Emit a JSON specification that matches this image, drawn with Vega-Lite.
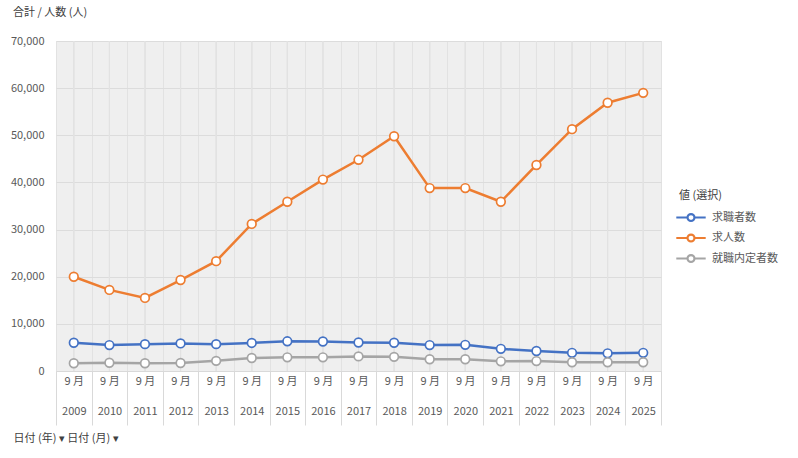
{
  "$schema": "https://vega.github.io/schema/vega-lite/v6.json",
  "width": 605,
  "height": 330,
  "autosize": "none",
  "padding": {"left": 56, "top": 41, "right": 137, "bottom": 87},
  "background": "white",
  "config": {
    "font": "Noto Sans CJK JP",
    "view": {"fill": "#efefef", "stroke": "#e2e2e2", "strokeWidth": 1}
  },
  "title": {
    "text": "合計 / 人数 (人)",
    "anchor": "start",
    "frame": "group",
    "dx": -43,
    "offset": 17,
    "fontSize": 11,
    "fontWeight": "normal",
    "color": "#404040",
    "font": "Noto Sans CJK JP"
  },
  "data": {
    "values": [
      {"year": "2009", "series": "求職者数", "value": 6000},
      {"year": "2010", "series": "求職者数", "value": 5500},
      {"year": "2011", "series": "求職者数", "value": 5700},
      {"year": "2012", "series": "求職者数", "value": 5850},
      {"year": "2013", "series": "求職者数", "value": 5700},
      {"year": "2014", "series": "求職者数", "value": 5950},
      {"year": "2015", "series": "求職者数", "value": 6300},
      {"year": "2016", "series": "求職者数", "value": 6250},
      {"year": "2017", "series": "求職者数", "value": 6050},
      {"year": "2018", "series": "求職者数", "value": 6000},
      {"year": "2019", "series": "求職者数", "value": 5500},
      {"year": "2020", "series": "求職者数", "value": 5550},
      {"year": "2021", "series": "求職者数", "value": 4700},
      {"year": "2022", "series": "求職者数", "value": 4250},
      {"year": "2023", "series": "求職者数", "value": 3850},
      {"year": "2024", "series": "求職者数", "value": 3750},
      {"year": "2025", "series": "求職者数", "value": 3850},
      {"year": "2009", "series": "求人数", "value": 20000},
      {"year": "2010", "series": "求人数", "value": 17200},
      {"year": "2011", "series": "求人数", "value": 15500},
      {"year": "2012", "series": "求人数", "value": 19300},
      {"year": "2013", "series": "求人数", "value": 23300},
      {"year": "2014", "series": "求人数", "value": 31200},
      {"year": "2015", "series": "求人数", "value": 35900},
      {"year": "2016", "series": "求人数", "value": 40600},
      {"year": "2017", "series": "求人数", "value": 44800},
      {"year": "2018", "series": "求人数", "value": 49800},
      {"year": "2019", "series": "求人数", "value": 38800},
      {"year": "2020", "series": "求人数", "value": 38800},
      {"year": "2021", "series": "求人数", "value": 35900},
      {"year": "2022", "series": "求人数", "value": 43700},
      {"year": "2023", "series": "求人数", "value": 51300},
      {"year": "2024", "series": "求人数", "value": 56900},
      {"year": "2025", "series": "求人数", "value": 59000},
      {"year": "2009", "series": "就職内定者数", "value": 1650},
      {"year": "2010", "series": "就職内定者数", "value": 1750},
      {"year": "2011", "series": "就職内定者数", "value": 1650},
      {"year": "2012", "series": "就職内定者数", "value": 1700},
      {"year": "2013", "series": "就職内定者数", "value": 2150},
      {"year": "2014", "series": "就職内定者数", "value": 2750},
      {"year": "2015", "series": "就職内定者数", "value": 2900},
      {"year": "2016", "series": "就職内定者数", "value": 2900},
      {"year": "2017", "series": "就職内定者数", "value": 3100},
      {"year": "2018", "series": "就職内定者数", "value": 3000},
      {"year": "2019", "series": "就職内定者数", "value": 2500},
      {"year": "2020", "series": "就職内定者数", "value": 2500},
      {"year": "2021", "series": "就職内定者数", "value": 2050},
      {"year": "2022", "series": "就職内定者数", "value": 2100},
      {"year": "2023", "series": "就職内定者数", "value": 1850},
      {"year": "2024", "series": "就職内定者数", "value": 1850},
      {"year": "2025", "series": "就職内定者数", "value": 1850}
    ]
  },
  "encoding": {
    "x": {
      "field": "year",
      "type": "ordinal",
      "scale": {"paddingInner": 0, "paddingOuter": 0},
      "axis": {
        "labelExpr": "datum.label ? ['9 月', datum.label] : ''",
        "labelLineHeight": 30,
        "labelAngle": 0,
        "labelBaseline": "top",
        "labelPadding": -50,
        "labelFlush": false,
        "labelOverlap": false,
        "labelBound": false,
        "labelFontSize": 11,
        "labelColor": "#595959",
        "labelFont": "Noto Sans CJK JP",
        "tickBand": "extent",
        "tickSize": 54,
        "tickColor": "#d9d9d9",
        "tickWidth": 1,
        "grid": true,
        "gridColor": "#e2e2e2",
        "gridWidth": 1,
        "domain": true,
        "domainColor": "#d9d9d9",
        "title": "日付 (年) ▾  日付 (月) ▾",
        "titleAnchor": "start",
        "titleAlign": "left",
        "titleX": -43,
        "titleY": 67,
        "titleBaseline": "middle",
        "titleFontSize": 11,
        "titleFontWeight": "normal",
        "titleColor": "#404040",
        "titleFont": "Noto Sans CJK JP"
      }
    }
  },
  "layer": [
    {
      "mark": {"type": "rule", "color": "#e2e2e2", "strokeWidth": 1},
      "encoding": {}
    },
    {
      "mark": {"type": "line", "strokeWidth": 2.5, "point": {"filled": false, "fill": "white", "size": 75, "strokeWidth": 1.7}},
      "encoding": {
        "y": {
          "field": "value",
          "type": "quantitative",
          "scale": {"domain": [0, 70000], "nice": false},
          "axis": {
            "values": [0, 10000, 20000, 30000, 40000, 50000, 60000, 70000],
            "format": ",d",
            "title": null,
            "ticks": false,
            "domain": false,
            "labelPadding": 12,
            "labelFontSize": 11,
            "labelColor": "#595959",
            "labelFont": "Noto Sans CJK JP",
            "gridColor": "#dcdcdc",
            "gridWidth": 1.2
          }
        },
        "color": {
          "field": "series",
          "type": "nominal",
          "scale": {
            "domain": ["求職者数", "求人数", "就職内定者数"],
            "range": ["#4472C4", "#ED7D31", "#A5A5A5"]
          },
          "legend": {
            "orient": "none",
            "legendX": 623,
            "legendY": 149,
            "title": "値 (選択)",
            "titleFontSize": 11,
            "titleFontWeight": "normal",
            "titleColor": "#404040",
            "titleFont": "Noto Sans CJK JP",
            "titlePadding": 4.5,
            "labelFontSize": 11,
            "labelColor": "#595959",
            "labelFont": "Noto Sans CJK JP",
            "symbolType": "M-1.4,0L-0.33,0M0.33,0L1.4,0M-0.33,0A0.33,0.33 0 1,0 0.33,0A0.33,0.33 0 1,0 -0.33,0",
            "symbolSize": 441,
            "symbolStrokeWidth": 2.2,
            "symbolFillColor": "white",
            "rowPadding": 0.5,
            "labelOffset": 9
          }
        }
      }
    }
  ]
}
